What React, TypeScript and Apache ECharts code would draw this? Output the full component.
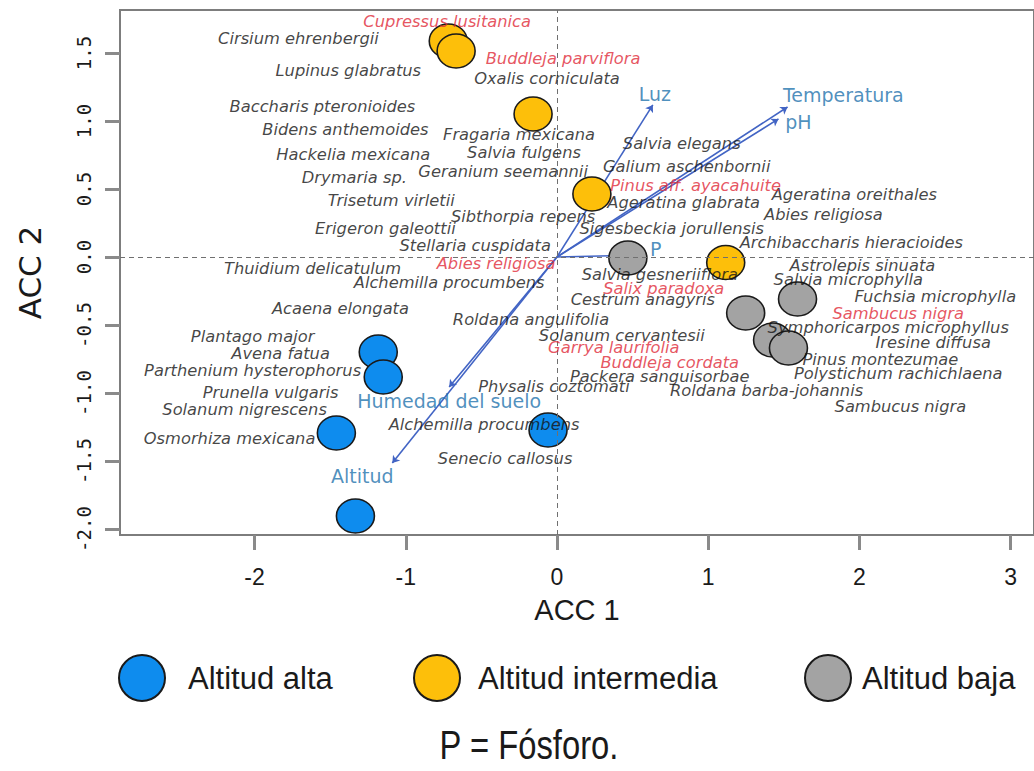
import React, { useEffect, useRef } from "react";
import * as echarts from "echarts";

// ---- data (ACC 1, ACC 2) ----
const altaPts: [number, number][] = [
  [-1.182, -0.699], [-1.149, -0.882], [-1.459, -1.294], [-0.059, -1.272], [-1.333, -1.904],
];
const intermediaPts: [number, number][] = [
  [-0.719, 1.588], [-0.667, 1.515], [-0.158, 1.051], [0.231, 0.463], [1.116, -0.04],
];
const bajaPts: [number, number][] = [
  [0.469, -0.007], [1.248, -0.412], [1.591, -0.309], [1.426, -0.61], [1.531, -0.669],
];

// environmental vectors: [name, endX, endY, labelX, labelY]
const vectors: [string, number, number, number, number][] = [
  ["Luz", 0.634, 1.118, 0.647, 1.199],
  ["Temperatura", 1.525, 1.103, 1.894, 1.191],
  ["pH", 1.465, 1.015, 1.597, 0.993],
  ["P", 0.574, 0.015, 0.653, 0.059],
  ["Humedad del suelo", -0.713, -0.956, -0.713, -1.059],
  ["Altitud", -1.089, -1.515, -1.287, -1.61],
];

// species (black): [name, x, y]
const speciesBlack: [string, number, number][] = [
  ["Cirsium ehrenbergii", -1.71, 1.603],
  ["Lupinus glabratus", -1.38, 1.368],
  ["Baccharis pteronioides", -1.551, 1.103],
  ["Bidens anthemoides", -1.399, 0.934],
  ["Hackelia mexicana", -1.347, 0.757],
  ["Drymaria sp.", -1.34, 0.588],
  ["Trisetum virletii", -1.096, 0.412],
  ["Erigeron galeottii", -1.135, 0.213],
  ["Thuidium delicatulum", -1.617, -0.081],
  ["Oxalis corniculata", -0.066, 1.316],
  ["Fragaria mexicana", -0.251, 0.897],
  ["Salvia fulgens", -0.218, 0.765],
  ["Geranium seemannii", -0.356, 0.632],
  ["Sibthorpia repens", -0.224, 0.301],
  ["Salvia elegans", 0.825, 0.838],
  ["Galium aschenbornii", 0.858, 0.662],
  ["Ageratina glabrata", 0.838, 0.397],
  ["Sigesbeckia jorullensis", 0.759, 0.206],
  ["Ageratina oreithales", 1.967, 0.456],
  ["Abies religiosa", 1.762, 0.309],
  ["Archibaccharis hieracioides", 1.947, 0.11],
  ["Stellaria cuspidata", -0.541, 0.081],
  ["Alchemilla procumbens", -0.713, -0.191],
  ["Acaena elongata", -1.432, -0.382],
  ["Roldana angulifolia", -0.172, -0.456],
  ["Plantago major", -2.013, -0.588],
  ["Avena fatua", -1.828, -0.713],
  ["Parthenium hysterophorus", -2.013, -0.831],
  ["Prunella vulgaris", -1.894, -0.993],
  ["Solanum nigrescens", -2.066, -1.118],
  ["Osmorhiza mexicana", -2.165, -1.331],
  ["Physalis coztomati", -0.02, -0.949],
  ["Alchemilla procumbens", -0.482, -1.228],
  ["Senecio callosus", -0.343, -1.485],
  ["Salvia gesneriiflora", 0.68, -0.132],
  ["Cestrum anagyris", 0.568, -0.316],
  ["Solanum cervantesii", 0.429, -0.574],
  ["Packera sanguisorbae", 0.68, -0.875],
  ["Roldana barba-johannis", 1.386, -0.985],
  ["Astrolepis sinuata", 2.02, -0.066],
  ["Salvia microphylla", 1.927, -0.169],
  ["Fuchsia microphylla", 2.502, -0.294],
  ["Symphoricarpos microphyllus", 2.191, -0.515],
  ["Iresine diffusa", 2.488, -0.632],
  ["Pinus montezumae", 2.139, -0.757],
  ["Polystichum rachichlaena", 2.257, -0.853],
  ["Sambucus nigra", 2.271, -1.096],
];

// species (red)
const speciesRed: [string, number, number][] = [
  ["Cupressus lusitanica", -0.726, 1.735],
  ["Buddleja parviflora", 0.04, 1.456],
  ["Pinus aff. ayacahuite", 0.917, 0.529],
  ["Abies religiosa", -0.403, -0.051],
  ["Salix paradoxa", 0.706, -0.228],
  ["Sambucus nigra", 2.257, -0.412],
  ["Garrya laurifolia", 0.376, -0.669],
  ["Buddleja cordata", 0.746, -0.779],
];

const xTicks = [-2, -1, 0, 1, 2, 3];
const yTicks = [-2, -1.5, -1, -0.5, 0, 0.5, 1, 1.5];
const groupNames = ["Altitud alta", "Altitud intermedia", "Altitud baja"];
const groupColors = ["#0E8CEE", "#FDBF0A", "#A3A3A3"];

const ELLIPSE = "path://M0,50A50,50,0,1,1,100,50A50,50,0,1,1,0,50Z";
const SANS = "'Liberation Sans', Arial, sans-serif";

export default function App() {
  const ref = useRef<HTMLDivElement>(null);
  useEffect(() => {
    if (!ref.current) return;
    const chart = echarts.init(ref.current, undefined, { renderer: "svg" });

    const pointSeries = [altaPts, intermediaPts, bajaPts].map((pts, i) => ({
      name: groupNames[i],
      type: "scatter",
      symbol: ELLIPSE,
      symbolSize: [38, 34],
      z: 4,
      itemStyle: { color: groupColors[i], borderColor: "#1a1a1a", borderWidth: 1.5, opacity: 1 },
      data: pts,
      silent: true,
    }));

    const labelSeries = (items: [string, number, number][], color: string, z: number) => ({
      type: "scatter",
      symbolSize: 0,
      z,
      silent: true,
      data: items.map(([n, x, y]) => ({ name: n, value: [x, y] })),
      label: {
        show: true,
        position: "inside",
        formatter: "{b}",
        fontFamily: "DejaVu Sans",
        fontStyle: "italic",
        fontSize: 16.3,
        color,
      },
    });

    const vectorLabelSeries = {
      type: "scatter",
      symbolSize: 0,
      z: 5,
      silent: true,
      data: vectors.map((v) => ({ name: v[0], value: [v[3], v[4]] })),
      label: {
        show: true,
        position: "inside",
        formatter: "{b}",
        fontFamily: "DejaVu Sans",
        fontSize: 19,
        color: "#1f73ad",
      },
    };

    const arrowSeries = {
      type: "lines",
      coordinateSystem: "cartesian2d",
      z: 3,
      silent: true,
      symbol: ["none", "arrow"],
      symbolSize: 7,
      lineStyle: { color: "#4264c4", width: 1.6, opacity: 1 },
      data: vectors.map((v) => ({ coords: [[0, 0], [v[1], v[2]]] })),
    };

    const zeroLines = {
      type: "scatter",
      data: [],
      silent: true,
      markLine: {
        silent: true,
        symbol: "none",
        label: { show: false },
        lineStyle: { color: "#707070", type: [5, 4], width: 1 },
        data: [{ xAxis: 0 }, { yAxis: 0 }],
      },
    };

    const legendLefts = [113, 408, 799];
    const legendPad = [18, 13, 6];
    const legends = groupNames.map((n, i) => ({
      data: [{ name: n, icon: ELLIPSE }],
      left: legendLefts[i],
      top: 649,
      itemWidth: 46,
      itemHeight: 52,
      selectedMode: false,
      textStyle: { fontFamily: SANS, fontSize: 31, color: "#1a1a1a", padding: [0, 0, 0, legendPad[i]] },
    }));

    chart.setOption({
      animation: false,
      backgroundColor: "#ffffff",
      grid: {
        left: 120,
        top: 10,
        right: -2,
        bottom: 236,
        show: true,
        borderColor: "#7d7d7d",
        borderWidth: 2,
        backgroundColor: "transparent",
      },
      xAxis: {
        type: "value",
        min: -2.89,
        max: 3.155,
        name: "ACC 1",
        nameLocation: "middle",
        nameGap: 60,
        nameTextStyle: { fontFamily: SANS, fontSize: 29, color: "#1a1a1a" },
        axisLine: { show: false, onZero: false },
        splitLine: { show: false },
        axisTick: { show: true, length: 15, customValues: xTicks, lineStyle: { color: "#8a8a8a", width: 3 } },
        axisLabel: {
          customValues: xTicks,
          margin: 30,
          fontFamily: SANS,
          fontSize: 23,
          color: "#1a1a1a",
        },
      },
      yAxis: {
        type: "value",
        min: -2.044,
        max: 1.816,
        name: "ACC 2",
        nameLocation: "middle",
        nameGap: 75,
        nameTextStyle: { fontFamily: "DejaVu Sans", fontSize: 31, color: "#1a1a1a" },
        axisLine: { show: false, onZero: false },
        splitLine: { show: false },
        axisTick: { show: true, length: 15, customValues: yTicks, lineStyle: { color: "#8a8a8a", width: 3 } },
        axisLabel: {
          customValues: yTicks,
          rotate: 90,
          margin: 27,
          fontFamily: "'DejaVu Sans Mono', monospace",
          fontSize: 19,
          color: "#1a1a1a",
          formatter: (v: number) => v.toFixed(1),
        },
      },
      legend: legends,
      graphic: [
        {
          type: "text",
          x: 529,
          y: 745,
          scaleX: 0.82,
          style: {
            text: "P = Fósforo.",
            fontFamily: SANS,
            fontSize: 40,
            fill: "#1a1a1a",
            textAlign: "center",
            textVerticalAlign: "middle",
          },
        },
      ],
      series: [
        zeroLines,
        arrowSeries,
        ...pointSeries,
        labelSeries(speciesBlack, "#141414", 6),
        labelSeries(speciesRed, "#e02a38", 6),
        vectorLabelSeries,
      ],
    });
    return () => chart.dispose();
  }, []);
  return (
    <div
      ref={ref}
      style={{ position: "fixed", left: 0, top: 0, width: 1034, height: 771, background: "#fff" }}
    />
  );
}
